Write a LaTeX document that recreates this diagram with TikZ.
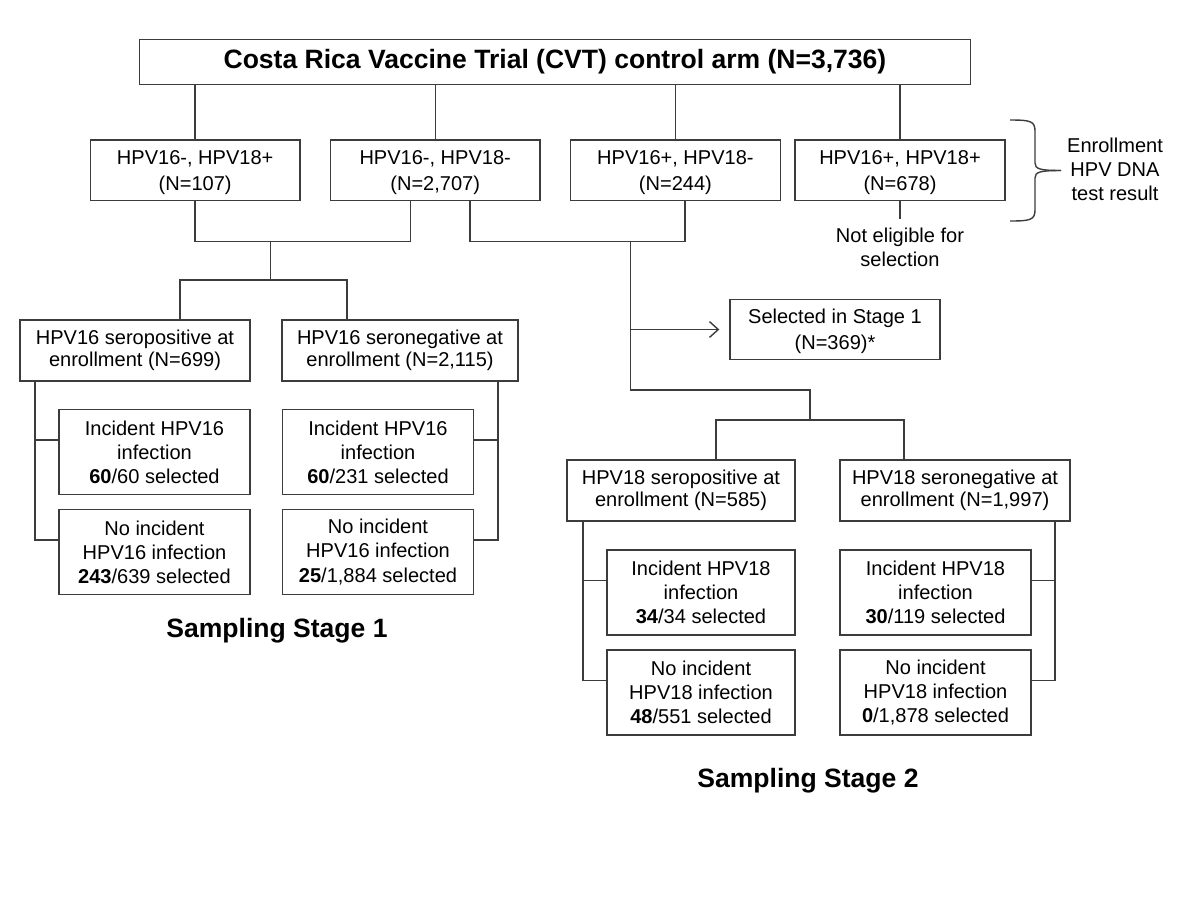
\documentclass[tikz,border=0pt]{standalone}
\usepackage{fontspec}
\setmainfont{Liberation Sans}
\usepackage{xcolor}
\usepackage{tikz}
\usetikzlibrary{positioning}
\usetikzlibrary{arrows.meta}
\definecolor{linegray}{HTML}{3C3C3C}
\tikzset{edge/.style = {->,> = {Straight Barb[length=5pt,width=9pt]}}}

\begin{document}
\begin{tikzpicture}[x=0.02cm,y=-0.02cm,node distance=2cm,line width=0.8pt,draw=linegray,
    every node/.style={font=\fontsize{11.4}{13.7}\selectfont,align=center,inner sep=0pt},
    main node/.style={draw=linegray,line width=0.8pt},
    top node/.style={main node,minimum width=16.62cm,minimum height=0.9cm,font=\fontsize{15.1}{17}\selectfont\bfseries},
    test node/.style={main node,minimum width=4.2cm,minimum height=1.21cm,text depth=0pt,font=\fontsize{11.4}{14.6}\selectfont},
    sero node/.style={main node,minimum width=4.6cm,minimum height=1.22cm,font=\fontsize{11.4}{12.6}\selectfont},
    inc node/.style={main node,minimum width=3.82cm,minimum height=1.7cm},
    stage/.style={anchor=base,font=\fontsize{15.1}{17}\selectfont\bfseries}]
    \useasboundingbox (0,0) rectangle (1200,900);

    \node[top node] (cvt) at (555,61.8) {Costa Rica Vaccine Trial (CVT) control arm (N=3,736)};
    \node[test node] (t1) at (195.2,170.4) {HPV16-, HPV18+\\(N=107)};
    \node[test node] (t2) at (435.2,170.4) {HPV16-, HPV18-\\(N=2,707)};
    \node[test node] (t3) at (675.4,170.4) {HPV16+, HPV18-\\(N=244)};
    \node[test node] (t4) at (900,170.4) {HPV16+, HPV18+\\(N=678)};
    \node (noelig) at (900,247.7) {Not eligible for\\selection};
    \node (enr) at (1115,169.7) {Enrollment\\HPV DNA\\test result};

    \node[sero node] (sp16) at (135,350.5) {HPV16 seropositive at\\enrollment (N=699)};
    \node[sero node,minimum width=4.72cm] (sn16) at (400,350.5) {HPV16 seronegative at\\enrollment (N=2,115)};
    \node[inc node] (inc1) at (154.5,452) {Incident HPV16\\infection\\\textbf{60}/60 selected};
    \node[inc node] (no1) [below of=inc1] {No incident\\HPV16 infection\\\textbf{243}/639 selected};
    \node[inc node] (inc2) at (378,452) {Incident HPV16\\infection\\\textbf{60}/231 selected};
    \node[inc node] (no2) [below of=inc2] {No incident\\HPV16 infection\\\textbf{25}/1,884 selected};
    \node[stage] (st1) at (277,637) {Sampling Stage 1};

    \node[test node] (sel) at (835,329.5) {Selected in Stage 1\\(N=369)*};
    \node[sero node,minimum width=4.56cm] (sp18) at (681,490.5) {HPV18 seropositive at\\enrollment (N=585)};
    \node[sero node] (sn18) at (955,490.5) {HPV18 seronegative at\\enrollment (N=1,997)};
    \node[inc node,minimum width=3.76cm] (inc3) at (701,592.5) {Incident HPV18\\infection\\\textbf{34}/34 selected};
    \node[inc node,minimum width=3.76cm] (no3) [below of=inc3] {No incident\\HPV18 infection\\\textbf{48}/551 selected};
    \node[inc node] (inc4) at (935.5,592.5) {Incident HPV18\\infection\\\textbf{30}/119 selected};
    \node[inc node] (no4) [below of=inc4] {No incident\\HPV18 infection\\\textbf{0}/1,878 selected};
    \node[stage] (st2) at (808,787) {Sampling Stage 2};

    \coordinate (j1) at (270.6,240.7);
    \coordinate (j2) at (270.6,280);
    \coordinate (j3) at (630.6,240.7);
    \coordinate (j4) at (630.6,390);
    \coordinate (j5) at (810,420);
    \coordinate (s1) at ([xshift=-2cm]sp16.south);
    \coordinate (s2) at ([xshift=1.96cm]sn16.south);
    \coordinate (s3) at ([xshift=-1.96cm]sp18.south);
    \coordinate (s4) at ([xshift=2cm]sn18.south);

    \foreach \t in {t1,t2,t3,t4}
        \draw (cvt.south -| \t.north) -- (\t.north);
    \draw (t4.south) -- ([yshift=0.17cm]noelig.north);
    \draw (t1.south) -- ++(0,40) -| ([xshift=-0.5cm]t2.south);
    \draw ([xshift=0.7cm]t2.south) -- ++(0,40) -| ([xshift=0.19cm]t3.south);
    \draw (j1) -- (j2);
    \draw ([xshift=0.9cm]sp16.north) |- (j2) -| ([xshift=-1.06cm]sn16.north);
    \draw (j3) -- (j4) -| (j5);
    \draw[edge,shorten >=0.2cm] (j3 |- sel.west) -- (sel.west);
    \draw ([xshift=0.7cm]sp18.north) |- (j5) -| ([xshift=-1.02cm]sn18.north);
    \draw ([yshift=0.24cm]inc1.west) -| (s1);
    \draw ([yshift=0.24cm]no1.west) -| (s1);
    \draw ([yshift=0.24cm]inc2.east) -| (s2);
    \draw ([yshift=0.24cm]no2.east) -| (s2);
    \draw ([yshift=0.24cm]inc3.west) -| (s3);
    \draw ([yshift=0.24cm]no3.west) -| (s3);
    \draw ([yshift=0.24cm]inc4.east) -| (s4);
    \draw ([yshift=0.24cm]no4.east) -| (s4);

    \draw (1010,120) .. controls (1030,120) and (1035,121) .. (1035,131) -- (1035,163)
        .. controls (1035,169) and (1040,170.5) .. (1061,170.5);
    \draw (1010,221) .. controls (1030,221) and (1035,220) .. (1035,210) -- (1035,178)
        .. controls (1035,172) and (1040,170.5) .. (1061,170.5);
\end{tikzpicture}
\end{document}
